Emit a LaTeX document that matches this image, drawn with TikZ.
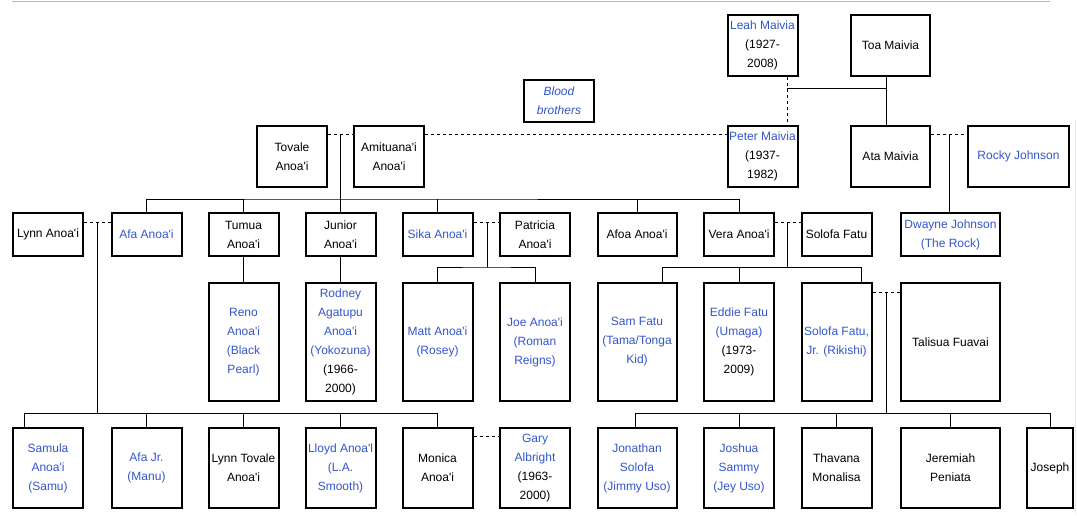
\documentclass[tikz,border=0pt]{standalone}
\usepackage{fontspec}
\setmainfont{Liberation Sans}[Ligatures=TeXOff]
\usepackage{tikz}

\definecolor{linkblue}{RGB}{51,85,204}

\begin{document}
\begin{tikzpicture}[x=1pt, y=-1pt, line width=1pt,
	every node/.style={font=\fontsize{12}{19}\selectfont},
	person/.style={draw, line width=2pt, inner sep=1pt, align=center, minimum width=70pt},
	link/.style={text=linkblue},
	mid/.style={minimum width=79pt},
	wide/.style={minimum width=99pt},
	top/.style={minimum height=61pt},
	low/.style={minimum height=43pt},
	tall/.style={minimum height=118pt},
	kid/.style={minimum height=80pt},
	dashline/.style={dash pattern=on 3pt off 3pt}]
	\useasboundingbox (0,0) rectangle (1077,515);
	\draw[gray!55] (12,1) -- (1050,1);
	\draw[gray!15] (1075,120) -- (1075,515);

	% Maivia
	\node[person, top, link] (leah) at (762.5,45.5) {Leah Maivia\\\textcolor{black}{(1927-}\\\textcolor{black}{2008)}};
	\node[person, top, mid] (toa) at (890.5,45.5) {Toa Maivia};
	\node[person, top, link] (peter) at (762.5,156.5) {Peter Maivia\\\textcolor{black}{(1937-}\\\textcolor{black}{1982)}};
	\node[person, top, mid] (ata) at (890.5,156.5) {Ata Maivia};
	\node[person, top, link, minimum width=101pt] (rocky) at (1018.5,156.5) {Rocky Johnson};
	\node[person, link, minimum height=42pt, font=\fontsize{12}{19}\selectfont\itshape] (blood) at (559,101) {Blood\\brothers};

	% Anoa'i
	\node[person, top] (tovale) at (292,156.5) {Tovale\\Anoa'i};
	\node[person, top] (amituana) at (389,156.5) {Amituana'i\\Anoa'i};

	\node[person, low] (lynn) at (48,234.5) {Lynn Anoa'i};
	\node[person, low, link] (afa) at (146.5,234.5) {Afa Anoa'i};
	\node[person, low] (tumua) at (243.5,234.5) {Tumua\\Anoa'i};
	\node[person, low] (junior) at (340.5,234.5) {Junior\\Anoa'i};
	\node[person, low, link] (sika) at (437.5,234.5) {Sika Anoa'i};
	\node[person, low] (patricia) at (535,234.5) {Patricia\\Anoa'i};
	\node[person, low, mid] (afoa) at (637,234.5) {Afoa Anoa'i};
	\node[person, low] (vera) at (739,234.5) {Vera Anoa'i};
	\node[person, low] (solofa) at (836.5,234.5) {Solofa Fatu};
	\node[person, low, wide, link] (dwayne) at (950.5,234.5) {Dwayne Johnson\\(The Rock)};

	\node[person, tall, link] (reno) at (243.5,342) {Reno\\Anoa'i\\(Black\\Pearl)};
	\node[person, tall, link] (rodney) at (340.5,342) {Rodney\\Agatupu\\Anoa'i\\(Yokozuna)\\\textcolor{black}{(1966-}\\\textcolor{black}{2000)}};
	\node[person, tall, link] (matt) at (437.5,342) {Matt Anoa'i\\(Rosey)};
	\node[person, tall, link] (joe) at (535,342) {Joe Anoa'i\\(Roman\\Reigns)};
	\node[person, tall, mid, link] (sam) at (637,342) {Sam Fatu\\(Tama/Tonga\\Kid)};
	\node[person, tall, link] (eddie) at (739,342) {Eddie Fatu\\(Umaga)\\\textcolor{black}{(1973-}\\\textcolor{black}{2009)}};
	\node[person, tall, link] (solofajr) at (836.5,342) {Solofa Fatu,\\Jr. (Rikishi)};
	\node[person, tall, wide] (talisua) at (950.5,342) {Talisua Fuavai};

	\node[person, kid, link] (samula) at (48,468) {Samula\\Anoa'i\\(Samu)};
	\node[person, kid, link] (afajr) at (146.5,468) {Afa Jr.\\(Manu)};
	\node[person, kid] (lynntovale) at (243.5,468) {Lynn Tovale\\Anoa'i};
	\node[person, kid, link] (lloyd) at (340.5,468) {Lloyd Anoa'l\\(L.A.\\Smooth)};
	\node[person, kid] (monica) at (437.5,468) {Monica\\Anoa'i};
	\node[person, kid, link] (gary) at (535,468) {Gary\\Albright\\\textcolor{black}{(1963-}\\\textcolor{black}{2000)}};
	\node[person, kid, mid, link] (jonathan) at (637,468) {Jonathan\\Solofa\\(Jimmy Uso)};
	\node[person, kid, link] (joshua) at (739,468) {Joshua\\Sammy\\(Jey Uso)};
	\node[person, kid] (thavana) at (836.5,468) {Thavana\\Monalisa};
	\node[person, kid, wide] (jeremiah) at (950.5,468) {Jeremiah\\Peniata};
	\node[person, kid, minimum width=46pt] (joseph) at (1050,468) {Joseph};

	% top couple
	\coordinate (lp) at (787,88);
	\coordinate (tm) at (886,88);
	\draw[dashline] (lp |- leah.south) -- (lp |- peter.north);
	\draw (lp) -- (tm);
	\draw (tm |- toa.south) -- (tm |- ata.north);
	\coordinate (ar) at (949,134);
	\draw[dashline] (ata.east |- ar) -- (rocky.west |- ar);
	\draw (ar) -- (dwayne.north -| ar);

	% brothers
	\coordinate (ta) at (340.5,134);
	\coordinate (bus1) at (340.5,199);
	\draw[dashline] (tovale.east |- ta) -- (amituana.west |- ta);
	\draw[dashline] (amituana.east |- ta) -- (peter.west |- ta);
	\draw (ta) -- (bus1);
	\draw (afa.north) |- (bus1) -| (vera.north);
	\foreach \n in {tumua,junior,sika,afoa}
		\draw (\n.north) -- (\n.north |- bus1);
	\draw (tumua.south) -- (reno.north);
	\draw (junior.south) -- (rodney.north);

	% Lynn and Afa
	\coordinate (la) at (97,222);
	\coordinate (bus2) at (97,413);
	\coordinate (samd) at (24,413);
	\draw[dashline] (lynn.east |- la) -- (afa.west |- la);
	\draw (la) -- (bus2);
	\draw (samula.north -| samd) -- (samd) -- (monica.north |- bus2) -- (monica.north);
	\foreach \n in {afajr,lynntovale,lloyd}
		\draw (\n.north) -- (\n.north |- bus2);
	\coordinate (mg) at (486,436);
	\draw[dashline] (monica.east |- mg) -- (gary.west |- mg);

	% Sika and Patricia
	\coordinate (sp) at (487,222);
	\coordinate (bus3) at (487,267);
	\draw[dashline] (sika.east |- sp) -- (patricia.west |- sp);
	\draw (sp) -- (bus3);
	\draw (matt.north) |- (bus3) -| (joe.north);

	% Vera and Solofa
	\coordinate (vs) at (787,222);
	\coordinate (bus4) at (787,267);
	\coordinate (tamad) at (662,267);
	\coordinate (rikd) at (861,267);
	\draw[dashline] (vera.east |- vs) -- (solofa.west |- vs);
	\draw (vs) -- (bus4);
	\draw (sam.north -| tamad) -- (tamad) -- (rikd) -- (solofajr.north -| rikd);
	\draw (eddie.north) -- (eddie.north |- bus4);

	% Solofa Jr. and Talisua
	\coordinate (st) at (886,292);
	\coordinate (bus5) at (886,413);
	\coordinate (jimd) at (635,413);
	\draw[dashline] (solofajr.east |- st) -- (talisua.west |- st);
	\draw (st) -- (bus5);
	\draw (jonathan.north -| jimd) -- (jimd) -- (joseph.north |- bus5) -- (joseph.north);
	\foreach \n in {joshua,thavana,jeremiah}
		\draw (\n.north) -- (\n.north |- bus5);
\end{tikzpicture}
\end{document}
